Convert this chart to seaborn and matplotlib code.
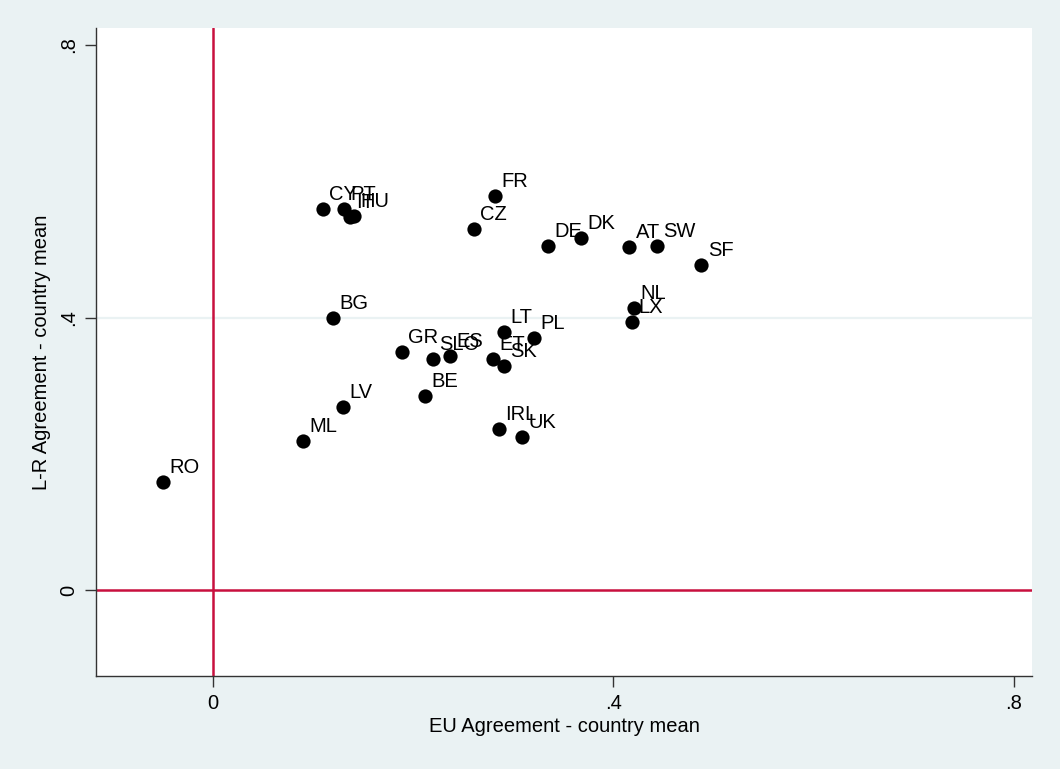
import matplotlib
matplotlib.use("Agg")
import matplotlib.pyplot as plt
import seaborn as sns
import pandas as pd

# Country codes with their mean EU agreement and L-R agreement
countries = ["RO", "ML", "LV", "BG", "GR", "SLO", "ES", "ET", "SK", "LT", "PL",
             "BE", "IRL", "UK", "NL", "LX", "SF", "AT", "SW", "FR", "CZ", "DE",
             "DK", "CY", "PT", "IT", "HU"]
eu_agreement = [-0.049, 0.090, 0.130, 0.120, 0.189, 0.220, 0.237, 0.280, 0.291,
                0.291, 0.321, 0.212, 0.286, 0.309, 0.421, 0.419, 0.488, 0.416,
                0.444, 0.282, 0.261, 0.335, 0.368, 0.110, 0.131, 0.137, 0.141]
lr_agreement = [0.159, 0.219, 0.269, 0.399, 0.349, 0.339, 0.344, 0.339, 0.329,
                0.379, 0.370, 0.285, 0.237, 0.225, 0.414, 0.393, 0.477, 0.504,
                0.505, 0.578, 0.530, 0.505, 0.517, 0.559, 0.559, 0.548, 0.549]
ticks = [0, 0.4, 0.8]
tick_labels = ["0", ".4", ".8"]

df = pd.DataFrame({"country": countries, "eu": eu_agreement, "lr": lr_agreement})

sns.set_style("white")
plt.rcParams["font.family"] = ["Liberation Sans", "DejaVu Sans"]

bg = "#EAF2F3"
fs = 14.5
fig = plt.figure(figsize=(10.6, 7.69), dpi=100, facecolor=bg)
ax = fig.add_axes([96 / 1060, 1 - 676 / 769, (1032 - 96) / 1060, (676 - 28) / 769])
ax.set_facecolor("white")

ax.set_xlim(-0.1163, 0.818)
ax.set_ylim(-0.126, 0.825)

# light horizontal gridline at the middle y tick
ax.axhline(0.4, color=bg, lw=1.6, zorder=0)

# reference lines at zero
red = "#C8103E"
ax.axhline(0, color=red, lw=1.8, zorder=1)
ax.axvline(0, color=red, lw=1.8, zorder=1)

sns.scatterplot(data=df, x="eu", y="lr", ax=ax, color="black", s=105,
                edgecolor="black", linewidth=0, zorder=3, legend=False)

for name, x, y in zip(df["country"], df["eu"], df["lr"]):
    ax.annotate(name, (x, y), xytext=(4.5, 6.5), textcoords="offset points",
                ha="left", va="baseline", fontsize=fs, color="black", zorder=4)

for side in ["top", "right"]:
    ax.spines[side].set_visible(False)
for side in ["left", "bottom"]:
    ax.spines[side].set_color("#333333")
    ax.spines[side].set_linewidth(1.0)

ax.set_xticks(ticks)
ax.set_xticklabels(tick_labels)
ax.set_yticks(ticks)
ax.set_yticklabels(tick_labels, rotation=90, va="center")
ax.tick_params(axis="both", direction="out", length=8, width=1, color="#333333",
               labelsize=fs, labelcolor="black", pad=5, left=True, bottom=True)
ax.set_xlabel("EU Agreement - country mean", fontsize=fs, labelpad=3, color="black")
ax.set_ylabel("L-R Agreement - country mean", fontsize=fs, labelpad=6, color="black")

fig.savefig("out.png", dpi=100, facecolor=bg)
